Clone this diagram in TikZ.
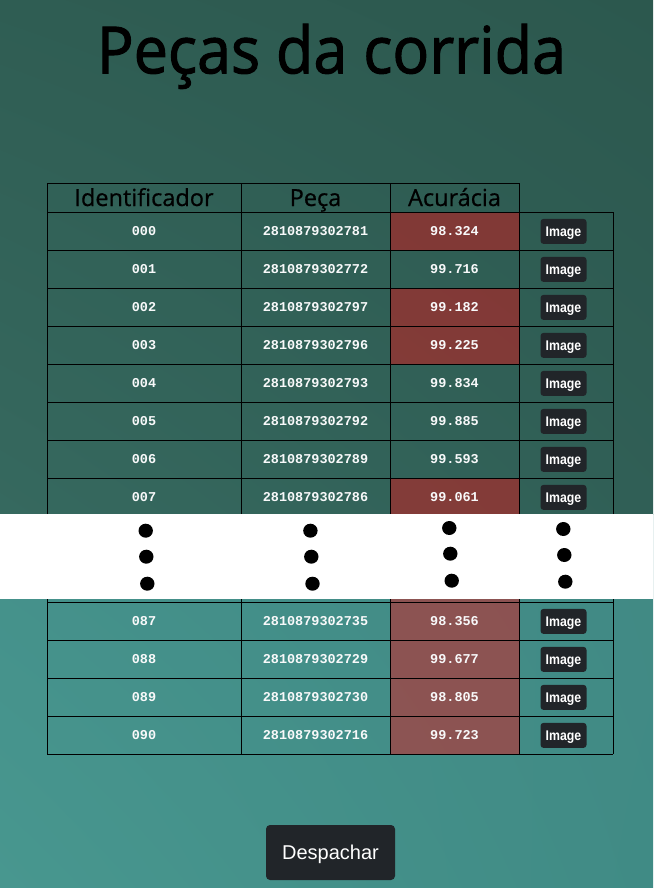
\documentclass[tikz,border=0pt]{standalone}
\usepackage{fontspec}
\usetikzlibrary{shadings}
\newfontfamily\titlefont[FakeStretch=0.94,FakeBold=1.6]{Open Sans}
\newfontfamily\headfont[FakeBold=0.6]{Open Sans}
\newfontfamily\cellfont{Liberation Mono}
\newfontfamily\btnfont[FakeStretch=0.88]{Liberation Sans}
\newfontfamily\bigbtnfont{Liberation Sans}
\definecolor{topTL}{HTML}{2F5D53}
\definecolor{topTR}{HTML}{2C584E}
\definecolor{topBL}{HTML}{36695F}
\definecolor{topBR}{HTML}{305F56}
\definecolor{botTL}{HTML}{44908A}
\definecolor{botTR}{HTML}{418984}
\definecolor{botBL}{HTML}{48978F}
\definecolor{botBR}{HTML}{408B85}
\definecolor{cellred}{RGB}{231,14,19}
\definecolor{btndark}{HTML}{212529}
\definecolor{celltext}{HTML}{F8F9FA}
\begin{document}
\begin{tikzpicture}[x=1pt,y=-1pt,
  grid/.style={draw=black, line width=1pt},
  headtxt/.style={font=\headfont\fontsize{23.5}{28}\selectfont, text=black, anchor=base, inner sep=0pt},
  celltxt/.style={font=\cellfont\bfseries\fontsize{13.5}{16}\selectfont, text=celltext, inner sep=0pt},
  redcell/.style={fill=cellred, fill opacity=0.45},
  imgbtn/.style={fill=btndark, rounded corners=3pt, minimum width=46pt, minimum height=25pt, inner sep=0pt, text=white, font=\btnfont\bfseries\fontsize{14}{16}\selectfont, text height=10pt, text depth=0pt},
  bigbtn/.style={fill=btndark, rounded corners=4pt, minimum width=129pt, minimum height=55pt, inner sep=0pt, text=white, font=\bigbtnfont\fontsize{20}{24}\selectfont, text height=14.3pt, text depth=0pt},
  dotmark/.style={fill=black}
]
\useasboundingbox (0,0) rectangle (653,888);
% backgrounds
\shade[upper left=topTL, upper right=topTR, lower left=topBL, lower right=topBR] (0,0) rectangle (653,514);
\shade[upper left=botTL, upper right=botTR, lower left=botBL, lower right=botBR] (0,514) rectangle (653,888);
% title
\node[font=\titlefont\fontsize{65}{78}\selectfont, anchor=base, inner sep=0pt, text=black] (title) at (331.5,73.3) {Peças da corrida};
% header
\node[headtxt] (h1) at (144,206) {Identificador};
\node[headtxt] (h2) at (315.5,206) {Peça};
\node[headtxt] (h3) at (454.5,206) {Acurácia};
% hidden partial row
\fill[redcell] (390,564) rectangle (519,602);
% top rows
\foreach \id/\pc/\ac/\r [count=\k from 0] in {
  000/2810879302781/98.324/1,
  001/2810879302772/99.716/0,
  002/2810879302797/99.182/1,
  003/2810879302796/99.225/1,
  004/2810879302793/99.834/0,
  005/2810879302792/99.885/0,
  006/2810879302789/99.593/0,
  007/2810879302786/99.061/1}{
  \pgfmathsetmacro\yt{212+38*\k}
  \ifnum\r=1 \fill[redcell] (390,\yt) rectangle (519,\yt+38); \fi
  \node[celltxt] (ti\k) at (144,\yt+19) {\id};
  \node[celltxt] (tp\k) at (315.5,\yt+19) {\pc};
  \node[celltxt] (ta\k) at (454.5,\yt+19) {\ac};
  \node[imgbtn] (tb\k) at (563.5,\yt+19.4) {Image};
}
% bottom rows
\foreach \id/\pc/\ac/\r [count=\k from 0] in {
  087/2810879302735/98.356/1,
  088/2810879302729/99.677/1,
  089/2810879302730/98.805/1,
  090/2810879302716/99.723/1}{
  \pgfmathsetmacro\yt{602+38*\k}
  \ifnum\r=1 \fill[redcell] (390,\yt) rectangle (519,\yt+38); \fi
  \node[celltxt] (bi\k) at (144,\yt+19) {\id};
  \node[celltxt] (bp\k) at (315.5,\yt+19) {\pc};
  \node[celltxt] (ba\k) at (454.5,\yt+19) {\ac};
  \node[imgbtn] (bb\k) at (563.5,\yt+19.4) {Image};
}
% grid lines
\draw[grid] (47,183) -- (519,183);
\foreach \yy in {212,250,288,326,364,402,440,478,516,602,640,678,716,754}
  \draw[grid] (47,\yy) -- (613,\yy);
\foreach \xx in {47,241,390,519}
  \draw[grid] (\xx,183) -- (\xx,754);
\draw[grid] (613,212) -- (613,754);
% white band with ellipsis dots
\fill[white] (0,514) rectangle (653,599);
\foreach \dx/\dy in {145.7/530.7,146.3/556.7,147.3/583.7,
                     310.4/530.7,311.3/556.7,312.5/583.7,
                     449.3/528,450.3/553.7,451.7/580.7,
                     563.3/529,564.3/555,565.3/581.7}
  \fill[dotmark] (\dx,\dy) ellipse [x radius=7.2, y radius=7];
% dispatch button
\node[bigbtn] (desp) at (330.5,852.5) {Despachar};
\end{tikzpicture}
\end{document}
